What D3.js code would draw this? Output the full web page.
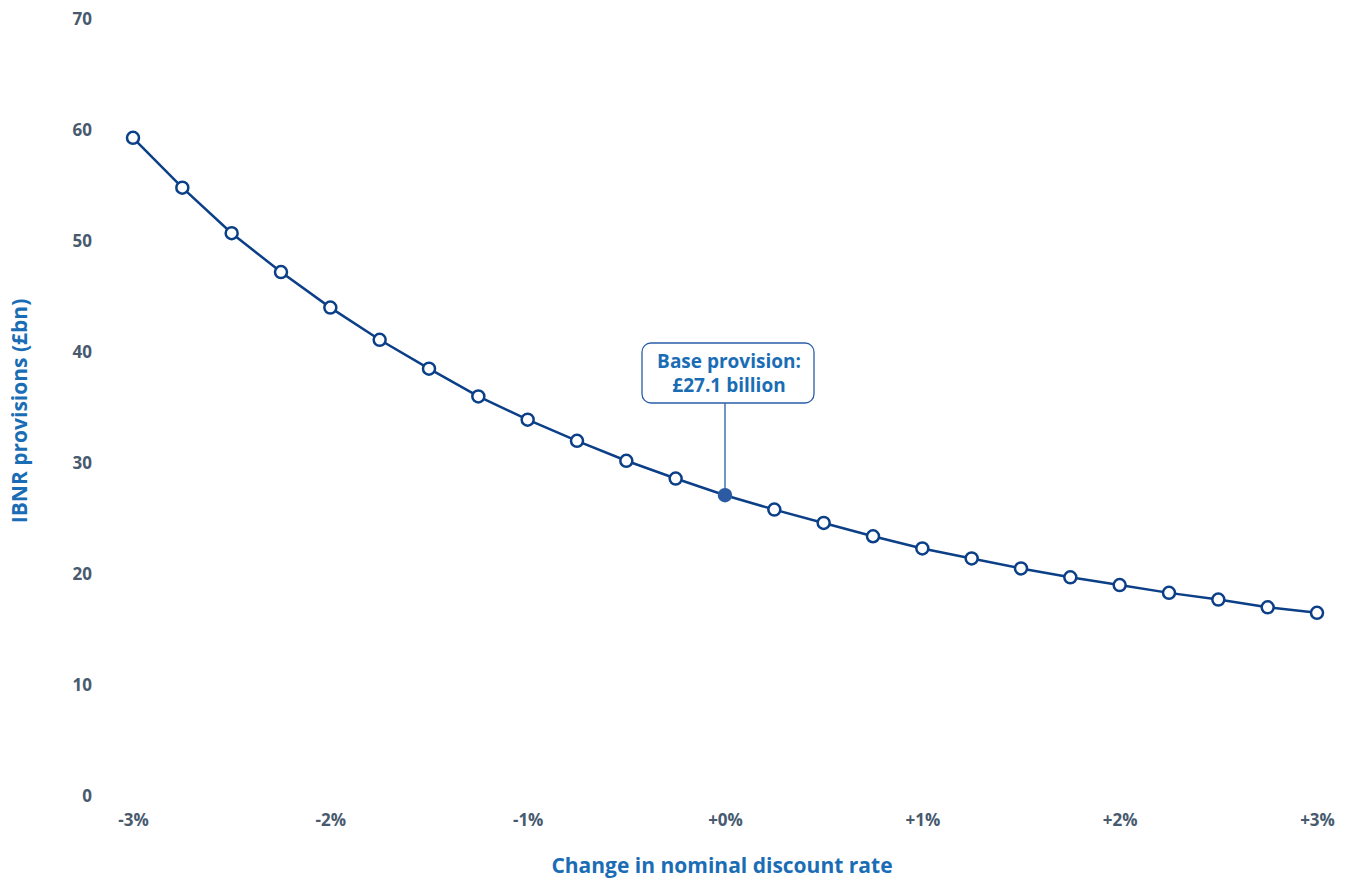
<!DOCTYPE html>
<html><head><meta charset="utf-8">
<script src="https://cdn.jsdelivr.net/npm/d3@7"></script>
<style>body{margin:0;background:#fff}svg{display:block}</style>
</head><body>
<script>
const rates = [-3,-2.75,-2.5,-2.25,-2,-1.75,-1.5,-1.25,-1,-0.75,-0.5,-0.25,0,0.25,0.5,0.75,1,1.25,1.5,1.75,2,2.25,2.5,2.75,3];
const provisions = [59.3,54.8,50.7,47.2,44.0,41.1,38.5,36.0,33.9,32.0,30.2,28.6,27.1,25.8,24.6,23.4,22.3,21.4,20.5,19.7,19.0,18.3,17.7,17.0,16.5];
const xTicks = [-3,-2,-1,0,1,2,3];
const xTickLabels = ["-3%","-2%","-1%","+0%","+1%","+2%","+3%"];
const yTicks = [0,10,20,30,40,50,60,70];
const baseRate = 0;
const annotationLines = ["Base provision:","£27.1 billion"];

const W=1348,H=879;
const font="'Open Sans', 'Noto Sans', sans-serif";
const svg=d3.select("body").append("svg").attr("width",W).attr("height",H);
const x=d3.scaleLinear().domain([-3,3]).range([133,1317]);
const y=d3.scaleLinear().domain([0,70]).range([796,19]);

const tickColor="#485a6e", titleColor="#1a6db5", lineColor="#0b3f87";

// y tick labels
const yAxis=d3.axisLeft(y).tickValues(yTicks).tickSize(0).tickPadding(0);
const gy=svg.append("g").attr("transform","translate(92,0)").call(yAxis);
gy.select(".domain").remove();
gy.selectAll("text").attr("fill",tickColor).attr("font-family",font).attr("font-weight","bold").attr("font-size","17px").attr("dy","0.35em");

// x tick labels
const xAxis=d3.axisBottom(x).tickValues(xTicks).tickFormat((d,i)=>xTickLabels[i]).tickSize(0).tickPadding(0);
const gx=svg.append("g").attr("transform","translate(0,820)").call(xAxis);
gx.select(".domain").remove();
gx.selectAll("text").attr("fill",tickColor).attr("font-family",font).attr("font-weight","bold").attr("font-size","17px").attr("dy","0.35em");

// axis titles
svg.append("text").attr("x",722).attr("y",866).attr("dy","0.35em").attr("text-anchor","middle")
  .attr("fill",titleColor).attr("font-family",font).attr("font-weight","bold").attr("font-size","21px")
  .text("Change in nominal discount rate");
svg.append("text").attr("transform","translate(20,411) rotate(-90)").attr("dy","0.35em").attr("text-anchor","middle")
  .attr("fill",titleColor).attr("font-family",font).attr("font-weight","bold").attr("font-size","21px")
  .text("IBNR provisions (£bn)");

// line
const data=rates.map((r,i)=>({r,v:provisions[i]}));
svg.append("path").datum(data).attr("fill","none").attr("stroke",lineColor).attr("stroke-width",2.5)
  .attr("d",d3.line().x(d=>x(d.r)).y(d=>y(d.v)));

// annotation
const bi=rates.indexOf(baseRate);
const bx=x(baseRate), by=y(provisions[bi]);
const boxW=172, boxH=60, boxTop=343;
svg.append("line").attr("x1",bx).attr("x2",bx).attr("y1",boxTop+boxH).attr("y2",by).attr("stroke","#2a5ea8").attr("stroke-width",1.3);
svg.append("rect").attr("x",bx-83).attr("y",boxTop).attr("width",boxW).attr("height",boxH).attr("rx",9)
  .attr("fill","#fff").attr("stroke","#2a5ea8").attr("stroke-width",1.3);
svg.append("g").selectAll("text").data(annotationLines).join("text")
  .attr("x",bx+4).attr("y",(d,i)=>361+i*24).attr("dy","0.35em").attr("text-anchor","middle")
  .attr("fill",titleColor).attr("font-family",font).attr("font-weight","bold").attr("font-size","19px").text(d=>d);

// points
svg.append("g").selectAll("circle").data(data).join("circle")
  .attr("cx",d=>x(d.r)).attr("cy",d=>y(d.v)).attr("r",6)
  .attr("fill",d=>d.r===baseRate?"#2c5aa3":"#fff")
  .attr("stroke",d=>d.r===baseRate?"#2c5aa3":lineColor).attr("stroke-width",2.5);
</script>
</body></html>
